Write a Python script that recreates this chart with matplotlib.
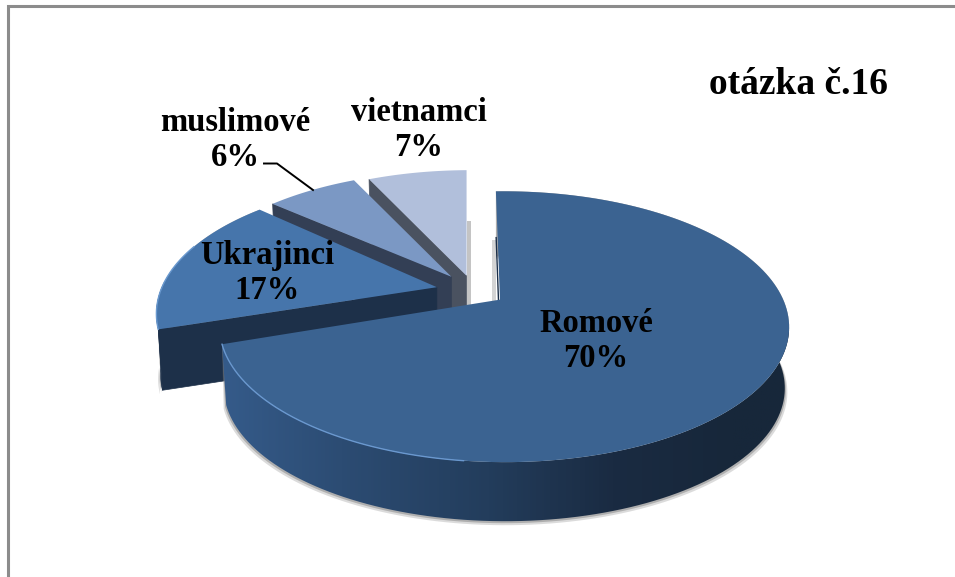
import numpy as np
import matplotlib
matplotlib.use("Agg")
import matplotlib.pyplot as plt
from matplotlib.colors import LinearSegmentedColormap
from matplotlib.patches import Polygon

# data
nazvy = ["Romové", "Ukrajinci", "muslimové", "vietnamci"]
hodnoty = [70, 17, 6, 7]
titulek = "otázka č.16"

# vzhled
barvy_vrch = ["#3b6391", "#4675ab", "#7b98c4", "#b1bfdb"]
barvy_rez = ["#1c2f48", "#1d3049", "#333f55", "#4a5260"]
barvy_rim = ["#6a98cf", "#6a99cf", "#8aa6cf", "#bcc9e1"]
vysunuti = [0.113, 0.134, 0.135, 0.12]
polomery = [1.0, 1.0, 0.97, 0.97]
# drobne korekce uhlu zacatku a konce dilu (kresba neni presna)
oprava_zac = [-1.0, 0.0, -2.0, 0.0]
oprava_kon = [-1.0, 0.0, 0.0, 0.0]
pozice_textu = [(596, 341), (267, 273), (235, 140), (419, 130)]

STRED = (474, 291)
SIRKA = 279
VYSKA = 130
PERSP = 0.2
PERSP_X = -0.015
HLOUBKA = 61.5
MERITKO_DOLE = 0.985

# barva steny podle x na obrazku
stena = LinearSegmentedColormap.from_list(
    "stena", [(0.0, "#355b8a"), (0.21, "#2c4c73"), (0.47, "#233d5c"),
              (0.69, "#1a2b42"), (0.9, "#17273a"), (1.0, "#17273a")])


def promitni(uhel, vrchol, polomer=1.0, dole=False):
    # uhel ve stupnich po smeru hodin od 12 hodin, jednoducha perspektiva
    t = np.radians(uhel)
    x, y = polomer * np.sin(t), polomer * np.cos(t)
    jm = 1 + PERSP * y + PERSP_X * x
    sx = SIRKA * x / jm
    sy = -VYSKA * y / jm
    if dole:
        return np.column_stack([vrchol[0] + sx * MERITKO_DOLE,
                                vrchol[1] + HLOUBKA + sy * MERITKO_DOLE])
    return np.column_stack([vrchol[0] + sx, vrchol[1] + sy])


def vrchol_dilu(stred_uhlu, vysun):
    t = np.radians(stred_uhlu)
    return (STRED[0] + vysun * 284 * np.sin(t),
            STRED[1] - vysun * VYSKA * np.cos(t))


fig = plt.figure(figsize=(9.55, 5.77), dpi=100)
ax = fig.add_axes([0, 0, 1, 1])

# seda hrana nahore a vlevo
ax.plot([7.5, 7.5, 955], [577, 6, 6], color="#8c8c8c", lw=2.2, solid_joinstyle="miter")

# hranice dilu
hrany = np.cumsum([0] + hodnoty) * 3.6
dily = []
for i in range(len(hodnoty)):
    u0, u1 = hrany[i], hrany[i + 1]
    dily.append((i, u0 + oprava_zac[i], u1 + oprava_kon[i], vrchol_dilu((u0 + u1) / 2, vysunuti[i])))

# kresli se odzadu dopredu
for i, u0, u1, v in [dily[3], dily[2], dily[1], dily[0]]:
    uhly = np.linspace(u0, u1, 160)
    horni = promitni(uhly, v, polomery[i])
    dolni = promitni(uhly, v, polomery[i], dole=True)
    v_dole = (v[0], v[1] + HLOUBKA)
    z = i * -10 + 31

    # mekky stin pod dilem
    if i < 2:
        for roztazeni, posun, alfa in [(1.009, 4.0, 0.3), (1.004, 2.0, 0.55)]:
            stin = dolni.copy()
            stin[:, 0] = v[0] + (stin[:, 0] - v[0]) * roztazeni
            stin[:, 1] += posun
            ax.add_patch(Polygon(np.vstack([horni, stin[::-1]]), closed=True,
                                 fc="#8a8a8a", ec="none", alpha=alfa, zorder=z - 1))
    # stin vpravo u svetleho dilu
    if i == 3:
        ax.fill_between([v[0], v[0] + 4], [v[1] - 55] * 2, [v[1] + 29] * 2,
                        color="#c4c4c4", lw=0, zorder=z - 1)
    if i == 0:
        ax.fill_between([v[0] - 8, v[0] - 4], [v[1] - 60] * 2, [v[1] + 2] * 2,
                        color="#d4d4d4", lw=0, zorder=z - 1)
        ax.plot([v[0] - 3.8, v[0] - 1.5], [v[1] - 62, v[1]], color="#1c2f48",
                lw=1.0, zorder=z - 0.5)

    # rez na zacatku dilu
    if i > 0:
        a = promitni(u0, v, polomery[i])[0]
        b = promitni(u0, v, polomery[i], dole=True)[0]
        ax.add_patch(Polygon([v, a, b, v_dole], closed=True, fc=barvy_rez[i],
                             ec=barvy_rez[i], lw=0.5, zorder=z))

    # vnejsi stena - jen to co je videt zepredu
    predni = np.cos(np.radians(uhly)) < 0.05
    obrys = np.vstack([horni[predni], dolni[predni][::-1]])
    if i == 0:
        ploska = Polygon(obrys, closed=True, fc="none", ec="none",
                         transform=ax.transData)
        ax.add_patch(ploska)
        obr = ax.imshow(np.linspace(0, 1, 300)[None, :], cmap=stena, aspect="auto",
                        extent=[220, 790, 530, 330], zorder=z + 0.1)
        obr.set_clip_path(ploska)
    else:
        ax.add_patch(Polygon(obrys, closed=True, fc=barvy_rez[i], ec=barvy_rez[i],
                             lw=0.4, zorder=z + 0.1))

    # vrchni plocha
    ax.add_patch(Polygon(np.vstack([[v], horni]), closed=True, fc=barvy_vrch[i],
                         ec="none", zorder=z + 0.2))
    # svetly okraj jen na leve strane
    if i < 2:
        jen = horni[uhly > 185] if i == 0 else horni[uhly < 290]
        ax.plot(jen[:, 0], jen[:, 1], color=barvy_rim[i], lw=1.0, zorder=z + 0.3)

# vynaseci cara k popisku muslimove
ax.plot([264, 277, 313], [163.5, 163.5, 190], color="black", lw=1.4, zorder=60)

# popisky
for i in range(len(nazvy)):
    ax.text(pozice_textu[i][0], pozice_textu[i][1], f"{nazvy[i]}\n{hodnoty[i]}%",
            family="Liberation Serif", weight="bold", fontsize=23.5, ha="center",
            va="center", linespacing=1.2, color="black", zorder=70)

ax.text(798, 85, titulek, family="Liberation Serif", weight="bold", fontsize=27,
        ha="center", va="center", color="black", zorder=70)

ax.set_xlim(0, 955)
ax.set_ylim(577, 0)
ax.axis("off")

fig.savefig("out.png", dpi=100)
